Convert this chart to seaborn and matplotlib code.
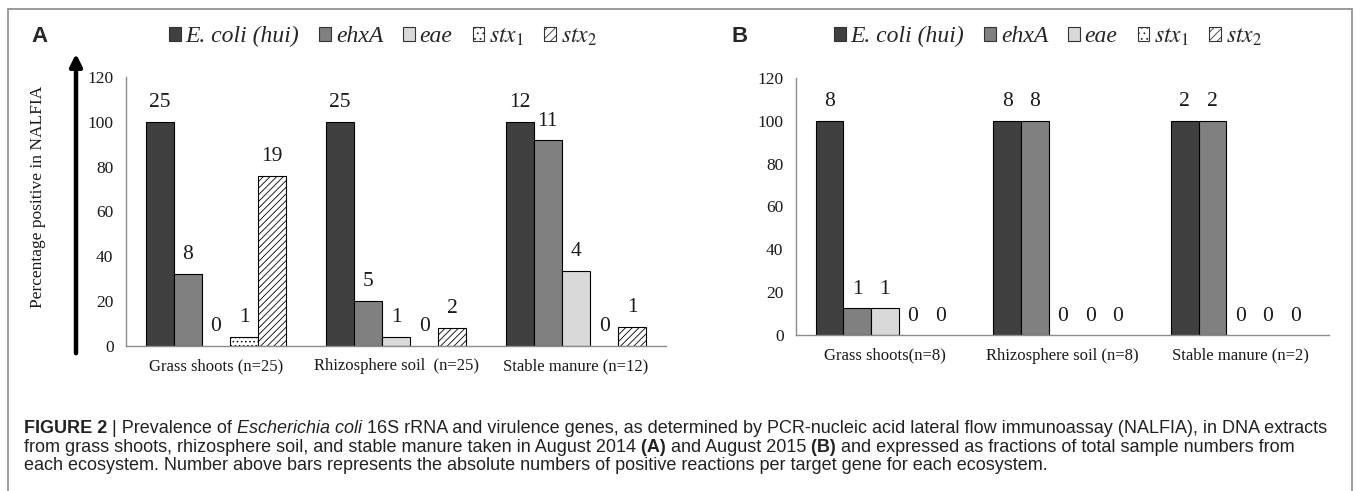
import numpy as np
import pandas as pd
import matplotlib
matplotlib.use("Agg")
import matplotlib.pyplot as plt
from matplotlib.patches import Patch, Rectangle, FancyArrowPatch
import seaborn as sns

# categories / genes
sites_a = ["Grass shoots (n=25)", "Rhizosphere soil  (n=25)", "Stable manure (n=12)"]
sites_b = ["Grass shoots(n=8)", "Rhizosphere soil (n=8)", "Stable manure (n=2)"]
genes = ["E. coli (hui)", "ehxA", "eae", "stx1", "stx2"]
gene_labels = ["E. coli (hui)", "ehxA", "eae", r"$stx_1$", r"$stx_2$"]

# percentage positive (rows = site, cols = gene)
pct_a = [[100, 32, 0, 4, 76],
         [100, 20, 4, 0, 8],
         [100, 91.7, 33.3, 0, 8.3]]
pct_b = [[100, 12.5, 12.5, 0, 0],
         [100, 100, 0, 0, 0],
         [100, 100, 0, 0, 0]]

# absolute counts shown above the bars
cnt_a = [[25, 8, 0, 1, 19],
         [25, 5, 1, 0, 2],
         [12, 11, 4, 0, 1]]
cnt_b = [[8, 1, 1, 0, 0],
         [8, 8, 0, 0, 0],
         [2, 2, 0, 0, 0]]

gene_colors = {"E. coli (hui)": "#404040", "ehxA": "#808080", "eae": "#d9d9d9",
               "stx1": "white", "stx2": "white"}
gene_hatch = {"E. coli (hui)": "", "ehxA": "", "eae": "", "stx1": "....", "stx2": "/////"}

sns.set_style("white")
plt.rcParams["font.family"] = ["Liberation Serif", "DejaVu Serif"]
plt.rcParams["mathtext.fontset"] = "stix"
plt.rcParams["hatch.linewidth"] = 0.6

W, H = 1357, 491
fig = plt.figure(figsize=(W / 100, H / 100), dpi=100)
fig.patch.set_facecolor("white")

axis_gray = "#8c8c8c"
txt_dark = "#1a1a1a"


def to_long(sites, pct, cnt):
    rows = []
    for i, s in enumerate(sites):
        for j, g in enumerate(genes):
            rows.append({"site": s, "gene": g, "pct": pct[i][j], "n": cnt[i][j]})
    return pd.DataFrame(rows)


def draw_panel(ax, sites, pct, cnt):
    df = to_long(sites, pct, cnt)
    sns.barplot(data=df, x="site", y="pct", hue="gene", order=sites, hue_order=genes,
                palette=gene_colors, edgecolor="black", linewidth=0.8,
                width=0.78, gap=0, errorbar=None, legend=False, ax=ax, saturation=1)
    for g, cont in zip(genes, ax.containers):
        counts = df[df.gene == g].set_index("site").loc[sites, "n"].tolist()
        for p in cont.patches:
            p.set_hatch(gene_hatch[g])
            if p.get_height() == 0:
                p.set_linewidth(0)
        ax.bar_label(cont, labels=[str(c) for c in counts], padding=7, fontsize=15.5,
                     color=txt_dark)
    ax.set_xlim(-0.5, 2.5)
    ax.set_ylim(0, 120)
    ax.set_yticks(np.arange(0, 121, 20))
    ax.set_xlabel("")
    ax.set_ylabel("")
    sns.despine(ax=ax)
    for sp in ["left", "bottom"]:
        ax.spines[sp].set_color(axis_gray)
        ax.spines[sp].set_linewidth(1.0)
    ax.set_xticks([-0.5, 0.5, 1.5, 2.5], minor=True)
    ax.tick_params(axis="x", which="major", length=0, pad=9, labelsize=12, colors=txt_dark)
    ax.tick_params(axis="x", which="minor", length=6, width=1, color=axis_gray, direction="out")
    ax.tick_params(axis="y", length=5, width=1, color=axis_gray, direction="out", pad=4,
                   labelsize=12.5, labelcolor=txt_dark)


def px_rect(x0, x1, y_bottom, y_top):
    return [x0 / W, 1 - y_bottom / H, (x1 - x0) / W, (y_bottom - y_top) / H]


ax_a = fig.add_axes(px_rect(126, 666, 345.7, 77))
ax_b = fig.add_axes(px_rect(796, 1329, 335.3, 77.7))
draw_panel(ax_a, sites_a, pct_a, cnt_a)
draw_panel(ax_b, sites_b, pct_b, cnt_b)

# legends
handles = [Patch(facecolor=gene_colors[g], edgecolor="#333333",
                 hatch=gene_hatch[g].replace("/////", "////").replace("....", "..."),
                 linewidth=0.8) for g in genes]
for x_left in (169, 834):
    fig.legend(handles, gene_labels, loc="center left", bbox_to_anchor=(x_left / W, 1 - 37 / H),
               ncol=5, frameon=False,
               prop={"family": "Liberation Serif", "style": "italic", "size": 17},
               handlelength=0.5, handleheight=0.5, handletextpad=0.2, columnspacing=0.85,
               borderaxespad=0, borderpad=0)

# panel letters
fig.text(31 / W, 1 - 37 / H, "A", fontsize=16, fontweight="bold", family="Liberation Sans",
         ha="left", va="center")
fig.text(731 / W, 1 - 37 / H, "B", fontsize=16, fontweight="bold", family="Liberation Sans",
         ha="left", va="center")

# y label and arrow for panel A
fig.text(38 / W, 1 - 197 / H, "Percentage positive in NALFIA", rotation=90, fontsize=12.5,
         ha="center", va="center", color=txt_dark)
fig.add_artist(FancyArrowPatch((76 / W, 1 - 356 / H), (76 / W, 1 - 51 / H),
                               transform=fig.transFigure, arrowstyle="-|>",
                               mutation_scale=18, linewidth=3.2, color="black"))

# outer frame
fig.add_artist(Rectangle((8 / W, -0.05), (1352 - 8) / W, 1.05 - 9 / H, transform=fig.transFigure,
                         fill=False, edgecolor="#8a8a8a", linewidth=1.2))

# caption
cap_color = "#222222"
lines = [
    [("FIGURE 2", "bold", "normal"), (" | Prevalence of ", "normal", "normal"),
     ("Escherichia coli", "normal", "italic"),
     (" 16S rRNA and virulence genes, as determined by PCR-nucleic acid lateral flow immunoassay (NALFIA), in DNA extracts",
      "normal", "normal")],
    [("from grass shoots, rhizosphere soil, and stable manure taken in August 2014", "normal", "normal"),
     (" (A)", "bold", "normal"), (" and August 2015", "normal", "normal"), (" (B)", "bold", "normal"),
     (" and expressed as fractions of total sample numbers from", "normal", "normal")],
    [("each ecosystem. Number above bars represents the absolute numbers of positive reactions per target gene for each ecosystem.",
      "normal", "normal")],
]
renderer = fig.canvas.get_renderer()
for k, runs in enumerate(lines):
    x = 24 / W
    y = 1 - (433 + k * 18.5) / H
    for txt, weight, style in runs:
        t = fig.text(x, y, txt, fontsize=13, family="Liberation Sans", fontweight=weight,
                     fontstyle=style, color=cap_color, ha="left", va="baseline")
        x += t.get_window_extent(renderer).width / W

fig.savefig("out.png", dpi=100)
